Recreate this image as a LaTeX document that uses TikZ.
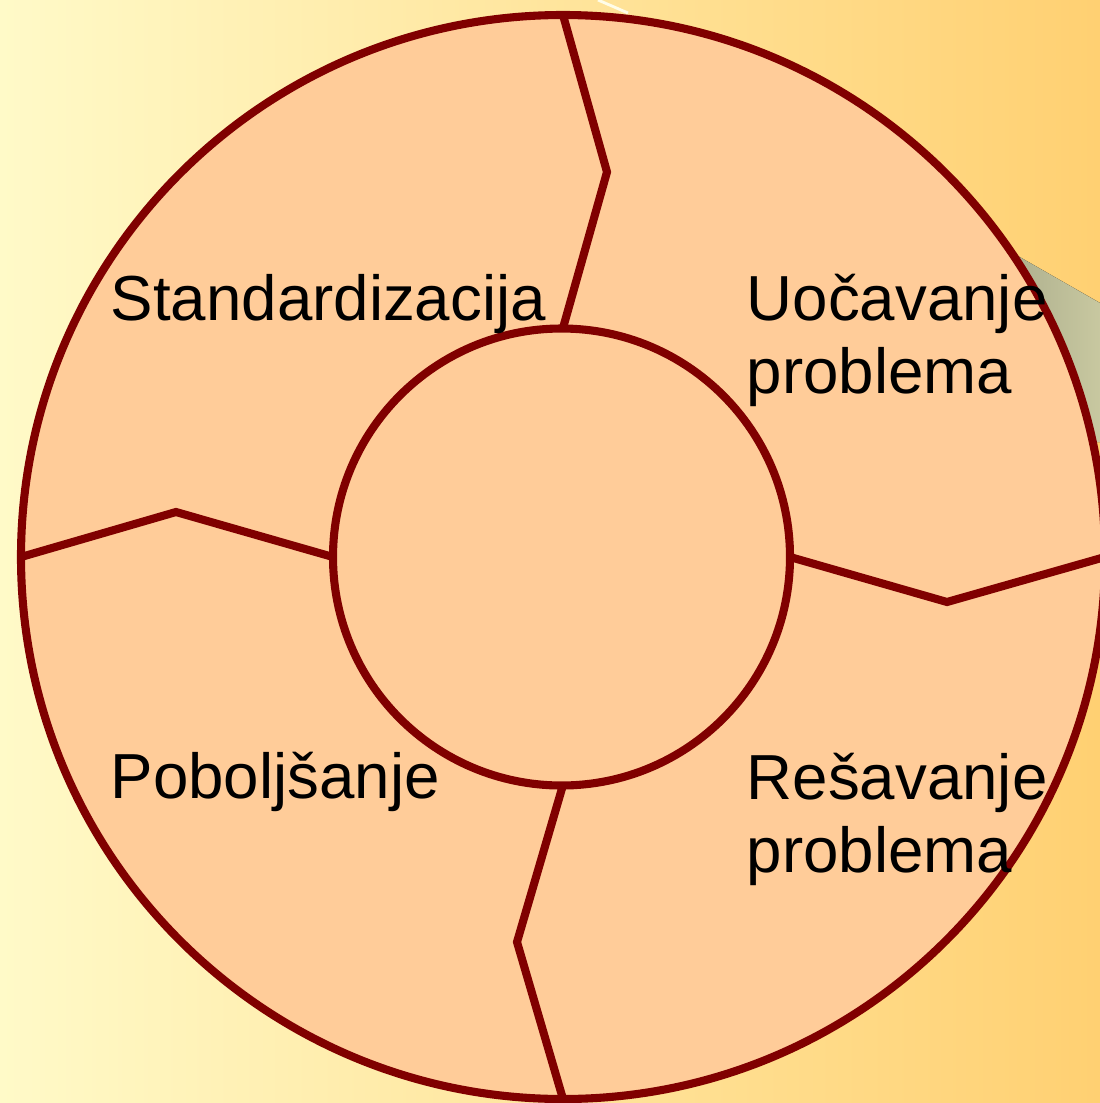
\documentclass[tikz,border=0pt]{standalone}
\usepackage{fontspec}
\setmainfont{Liberation Sans}
\usepackage{xcolor}
\usepackage{tikz}
\usetikzlibrary{positioning}
\definecolor{maroon}{RGB}{128,0,0}
\definecolor{peach}{RGB}{255,204,153}
\definecolor{paleyellow}{RGB}{255,250,200}
\definecolor{deepyellow}{RGB}{255,208,114}
\definecolor{olivegrey}{RGB}{168,170,138}
\definecolor{sagegrey}{RGB}{200,200,160}

\begin{document}
\begin{tikzpicture}[x=0.01cm,y=-0.01cm,
 ring/.style={draw=maroon,line width=2.3pt,fill=peach},
 seam/.style={draw=maroon,line width=2.3pt},
 phase/.style={anchor=base west,align=left,inner sep=0pt,font=\fontsize{18.1}{20.7}\selectfont}]
\useasboundingbox(0,0)rectangle(1100,1103);
\clip(0,0)rectangle(1100,1103);
% background
\fill[left color=paleyellow,right color=deepyellow](0,0)rectangle(1100,1103);
\fill[left color=olivegrey,right color=sagegrey](990,240)--(1100,303)--(1100,442)--(990,442)--cycle;
\draw[white!60!paleyellow,line width=0.8pt](598,0)--(628,13);
% wheel
\path[ring](563,557)circle[radius=542];
\draw[seam](563,15)--(607,172)--(563,328)
(790,557)--(947,602)--(1105,557)
(563,785)--(517,942)--(563,1099)
(333,557)--(176,512)--(21,557);
\path[ring](561.5,557)circle[radius=228.5];
% labels (base = last line)
\node[phase](std)at(110,320){Standardizacija};
\node[phase](uoc)at(746,393){Uočavanje\\problema};
\node[phase](pob)at(110,798){Poboljšanje};
\node[phase](res)at(746,872){Rešavanje\\problema};
\end{tikzpicture}
\end{document}
